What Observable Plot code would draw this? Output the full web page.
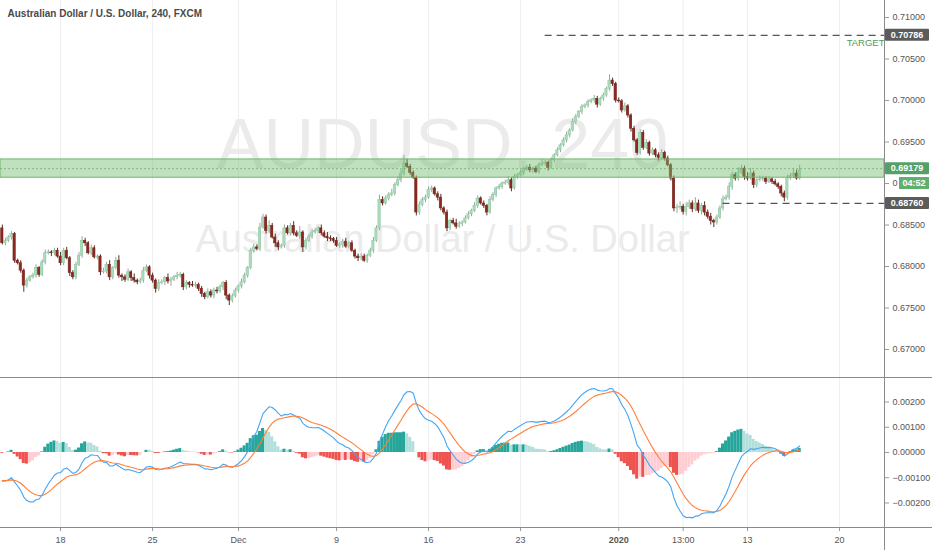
<!DOCTYPE html>
<html><head><meta charset="utf-8">
<script src="https://cdn.jsdelivr.net/npm/d3@7"></script>
<script src="https://cdn.jsdelivr.net/npm/@observablehq/plot@0.6"></script>
<style>
body{margin:0;background:#fff;}
#chart{position:relative;width:932px;}
#chart svg{display:block;}
</style></head><body><div id="chart"></div>
<script>
// ---- data (prices in pips: 6828 = 0.6828) ----
const firstOpenPips = 6846;
const closesPips = [
6828,6831,6835,6839,6807,6804,6795,6777,6783,6787,
6789,6798,6790,6805,6816,6817,6816,6819,6812,6804,
6819,6810,6792,6787,6802,6813,6831,6828,6816,6822,
6811,6812,6793,6794,6802,6787,6798,6807,6789,6787,
6784,6793,6786,6783,6781,6783,6795,6799,6789,6783,
6773,6780,6781,6786,6782,6784,6787,6789,6790,6775,
6780,6778,6777,6778,6773,6767,6763,6769,6765,6771,
6770,6775,6780,6765,6759,6764,6771,6776,6781,6789,
6798,6819,6823,6821,6847,6859,6843,6849,6835,6828,
6823,6825,6846,6840,6849,6840,6837,6841,6823,6831,
6836,6841,6843,6846,6840,6836,6834,6833,6831,6825,
6826,6830,6824,6828,6819,6812,6810,6812,6807,6813,
6819,6831,6846,6880,6876,6882,6886,6888,6898,6904,
6912,6924,6920,6913,6907,6865,6874,6880,6883,6892,
6894,6887,6883,6870,6865,6846,6855,6852,6848,6851,
6853,6858,6863,6867,6873,6882,6876,6873,6865,6880,
6886,6894,6896,6900,6901,6904,6894,6908,6910,6913,
6917,6919,6916,6918,6914,6922,6924,6925,6919,6928,
6934,6940,6946,6952,6958,6964,6974,6980,6986,6992,
6994,6998,7000,7002,6995,7002,7006,7014,7024,7020,
7000,6999,6988,6993,6982,6966,6952,6937,6961,6943,
6949,6936,6940,6934,6931,6937,6930,6922,6906,6870,
6871,6872,6866,6872,6876,6869,6876,6867,6873,6865,
6860,6855,6853,6859,6870,6881,6883,6896,6910,6906,
6913,6918,6908,6906,6912,6898,6904,6905,6906,6902,
6905,6902,6899,6896,6888,6883,6906,6909,6912,6906,
6916];
const upperWickPips = [
4,3,2,3,2,2,3,2,3,2, 3,4,2,3,4,3,2,3,3,5, 3,4,2,3,3,4,5,3,2,4, 3,2,2,4,3,5,2,4,6,2,
3,4,2,5,2,3,4,3,2,3, 2,4,3,2,5,3,2,4,3,2, 3,2,4,3,2,3,2,4,3,3, 4,3,2,3,2,3,3,2,4,3,
2,3,4,3,5,4,3,6,3,4, 3,2,4,3,3,5,3,7,2,3, 3,4,3,2,4,3,5,3,2,4, 3,3,4,2,3,2,3,4,3,2,
3,4,3,6,4,3,3,5,3,4, 4,10,5,3,2,2,4,3,3,4, 3,2,3,4,2,3,2,3,5,3, 2,3,3,2,4,3,2,3,2,4,
3,2,3,2,3,4,3,3,2,3, 2,3,4,2,3,3,5,3,2,3, 2,3,2,3,4,2,4,3,2,3, 2,3,2,4,3,2,3,2,7,3,
2,3,2,4,2,2,3,2,4,3, 4,2,3,2,3,4,2,3,2,3, 4,6,3,5,4,3,7,4,3,5, 3,4,2,3,3,4,3,5,4,3,
6,4,3,5,6,3,2,4,3,2, 3,2,3,2,2,3,4,3,5,4, 6];
const lowerWickPips = [
2,3,2,3,3,2,3,8,3,2, 2,3,3,2,3,2,4,3,2,3, 3,2,4,3,3,2,3,4,2,3, 2,3,4,2,3,4,3,2,3,5,
3,2,4,3,3,2,3,2,4,3, 5,3,2,4,3,6,2,3,3,4, 3,4,2,3,3,4,3,2,3,4, 3,2,4,5,6,3,2,3,3,2,
3,2,3,2,3,2,4,3,2,5, 4,2,3,2,3,3,2,4,6,3, 2,3,2,3,3,2,4,3,3,2, 3,4,2,3,2,3,4,3,2,3,
2,3,2,3,3,2,3,2,3,2, 3,3,2,3,2,4,3,2,3,2, 3,2,4,3,3,4,3,2,3,2, 3,2,2,3,2,3,2,3,4,2,
2,3,2,3,2,3,4,2,3,2, 3,2,3,4,2,3,2,3,4,2, 3,2,3,2,3,3,2,3,2,3, 2,3,2,3,4,2,3,2,3,3,
3,2,3,2,3,4,2,3,3,3, 2,3,2,3,4,2,3,2,3,4, 6,3,4,5,3,4,3,3,5,4, 3,5,6,3,2,3,2,3,4,3,
3,2,4,3,2,4,3,2,3,3, 2,3,2,3,4,5,3,2,3,2, 2];
const tickIndex  = [19, 49, 77, 109, 139, 169, 201, 222, 243, 273];
const tickLabels = ["18","25","Dec","9","16","23","2020","13:00","13","20"];
const priceTicks = [0.670,0.675,0.680,0.685,0.695,0.700,0.705,0.710];
const hiddenPriceTick = 0.690; // mostly covered by the countdown tag
const macdTicks  = [-0.002,-0.001,0,0.001,0.002];
const zone = {lo: 0.6907, hi: 0.6929, mid: 0.69179};
const targetLevel = 0.70786, targetFromIndex = 177;
const supportLevel = 0.68760, supportFromIndex = 235;
const macdAtStart = -0.0011, signalAtStart = -0.0011, ema12AboveFirstClose = 0.0015;
const titleText = "Australian Dollar / U.S. Dollar, 240, FXCM";
const watermark1 = "AUDUSD, 240", watermark2 = "Australian Dollar / U.S. Dollar";
const countdown = "04:52";

// ---- derived tables ----
const candles = closesPips.map((c, i) => {
  const open = (i === 0 ? firstOpenPips : closesPips[i-1]) / 10000;
  const close = c / 10000;
  return {i, open, close,
    high: Math.max(open, close) + upperWickPips[i] / 10000,
    low: Math.min(open, close) - lowerWickPips[i] / 10000,
    up: close >= open};
});
// MACD(12,26,9) from closes
let e12 = candles[0].close + ema12AboveFirstClose, e26 = e12 - macdAtStart, sig = signalAtStart;
let prevHist = macdAtStart - signalAtStart;
const macd = candles.map(d => {
  e12 += (2/13) * (d.close - e12);
  e26 += (2/27) * (d.close - e26);
  const m = e12 - e26;
  sig += (2/10) * (m - sig);
  const h = m - sig;
  const color = h >= 0 ? (h > prevHist ? "#26a69a" : "#b2dfdb") : (h > prevHist ? "#ffcdd2" : "#ef5350");
  prevHist = h;
  return {i: d.i, macd: m, signal: sig, hist: h, color};
});

const xDomain = [-0.6, 287.66];
const font = "Liberation Sans, Arial, sans-serif";
const fmt5 = d3.format(".5f");

const price = Plot.plot({
  width: 932, height: 377, marginTop: 0, marginBottom: 0, marginLeft: 0, marginRight: 48,
  style: {fontFamily: font, fontSize: "9px", color: "#4a4a4a", background: "#fff", overflow: "visible"},
  x: {domain: xDomain, axis: null},
  y: {domain: [0.66663, 0.71205], axis: null},
  color: {type: "identity"},
  marks: [
    Plot.ruleX(tickIndex, {stroke: "#eeeeee"}),
    Plot.text([watermark1], {frameAnchor: "top", dy: 145, fontSize: 70, fill: "#ebebeb", lineAnchor: "middle"}),
    Plot.text([watermark2], {frameAnchor: "top", dy: 239, fontSize: 38, fill: "#ebebeb", lineAnchor: "middle"}),
    Plot.ruleX(candles, {x: "i", y1: "low", y2: "high", stroke: d => d.up ? "#9aa59c" : "#4f3330", strokeWidth: 1}),
    Plot.rect(candles, {x1: d => d.i - 0.37, x2: d => d.i + 0.37, y1: "open", y2: "close",
      fill: d => d.up ? "#acdbbd" : "#8c2a20", stroke: d => d.up ? "#8fc9a3" : "#7a2219", strokeWidth: 0.6}),
    Plot.rect([zone], {x1: xDomain[0], x2: xDomain[1], y1: "lo", y2: "hi", fill: "#74bd6c", fillOpacity: 0.45, stroke: "#6fb56a", strokeWidth: 1}),
    Plot.ruleY([zone.mid], {stroke: "#5e9e5c", strokeDasharray: "2,2", strokeOpacity: 0.6}),
    Plot.ruleY([targetLevel], {x1: targetFromIndex, x2: xDomain[1], stroke: "#555", strokeDasharray: "7,5", strokeWidth: 1.3}),
    Plot.ruleY([supportLevel], {x1: supportFromIndex, x2: xDomain[1], stroke: "#555", strokeDasharray: "7,5", strokeWidth: 1.3}),
    Plot.text(["TARGET"], {x: xDomain[1], y: targetLevel, dy: 8, textAnchor: "end", lineAnchor: "middle", fontSize: 9.5, fill: "#4f9a5c"}),
    Plot.text([titleText], {frameAnchor: "top-left", dx: 7, dy: 13, lineAnchor: "middle", fontSize: 10, fontWeight: 600, fill: "#4a4a4a"}),
    Plot.axisY(priceTicks, {anchor: "right", tickSize: 4, tickPadding: 4, tickFormat: fmt5, stroke: "#999", fill: "#555", label: null}),
    Plot.axisY([hiddenPriceTick], {anchor: "right", tickSize: 4, tickPadding: 4, tickFormat: () => "0", stroke: "#999", fill: "#555", label: null})
  ]
});

const macdPlot = Plot.plot({
  width: 932, height: 173, marginTop: 1, marginBottom: 23, marginLeft: 0, marginRight: 48,
  style: {fontFamily: font, fontSize: "9px", color: "#4a4a4a", background: "#fff", overflow: "visible"},
  x: {domain: xDomain, axis: null},
  y: {domain: [-0.00297, 0.00293], axis: null},
  color: {type: "identity"},
  marks: [
    Plot.ruleX(tickIndex, {stroke: "#eeeeee"}),
    Plot.rect(macd, {x1: d => d.i - 0.5, x2: d => d.i + 0.5, y1: 0, y2: "hist", fill: "color"}),
    Plot.line(macd, {x: "i", y: "macd", stroke: "#42a5f5", strokeWidth: 1.1}),
    Plot.line(macd, {x: "i", y: "signal", stroke: "#ff7f3a", strokeWidth: 1.1}),
    Plot.axisY(macdTicks, {anchor: "right", tickSize: 4, tickPadding: 4, tickFormat: fmt5, stroke: "#999", fill: "#555", label: null}),
    Plot.axisX(tickIndex, {anchor: "bottom", tickSize: 4, tickPadding: 5, stroke: "#999", fill: "#555", label: null,
      tickFormat: d => tickLabels[tickIndex.indexOf(d)]})
  ]
});

// frame lines
const W = 932, axisX = 884.5;
d3.select(price).append("line").attr("x1", axisX).attr("x2", axisX).attr("y1", 0).attr("y2", 377).attr("stroke", "#8a8a8a");
const ms = d3.select(macdPlot);
ms.append("line").attr("x1", 0).attr("x2", W).attr("y1", 0.5).attr("y2", 0.5).attr("stroke", "#8a8a8a");
ms.append("line").attr("x1", 0).attr("x2", W).attr("y1", 150.5).attr("y2", 150.5).attr("stroke", "#8a8a8a");
ms.append("line").attr("x1", axisX).attr("x2", axisX).attr("y1", 0).attr("y2", 173).attr("stroke", "#8a8a8a");
ms.selectAll("text").filter(function() { return this.textContent === "2020"; }).attr("font-weight", "bold");

// price tags on the right axis
const yS = price.scale("y");
const ps = d3.select(price);
function tag(val, text, bg, x0, w) {
  const y = yS.apply(val);
  ps.append("rect").attr("x", x0).attr("y", y - 6).attr("width", w).attr("height", 12).attr("fill", bg).attr("rx", 1);
  ps.append("text").attr("x", x0 + w / 2).attr("y", y).attr("dy", "0.35em").attr("text-anchor", "middle")
    .attr("fill", "#fff").attr("font-size", 9).attr("font-weight", 600).text(text);
}
tag(targetLevel, fmt5(targetLevel), "#5b5b5b", 885, 44);
tag(supportLevel, fmt5(supportLevel), "#5b5b5b", 885, 44);
tag(zone.mid, fmt5(zone.mid), "#55a068", 885, 44);
{
  const y = yS.apply(hiddenPriceTick);
  ps.append("rect").attr("x", 899).attr("y", y - 6).attr("width", 30).attr("height", 12).attr("fill", "#5fb070");
  ps.append("text").attr("x", 914).attr("y", y).attr("dy", "0.35em").attr("text-anchor", "middle")
    .attr("fill", "#fff").attr("font-size", 9).attr("font-weight", 600).text(countdown);
}

const chart = document.getElementById("chart");
chart.appendChild(price);
chart.appendChild(macdPlot);
</script>
</body></html>
